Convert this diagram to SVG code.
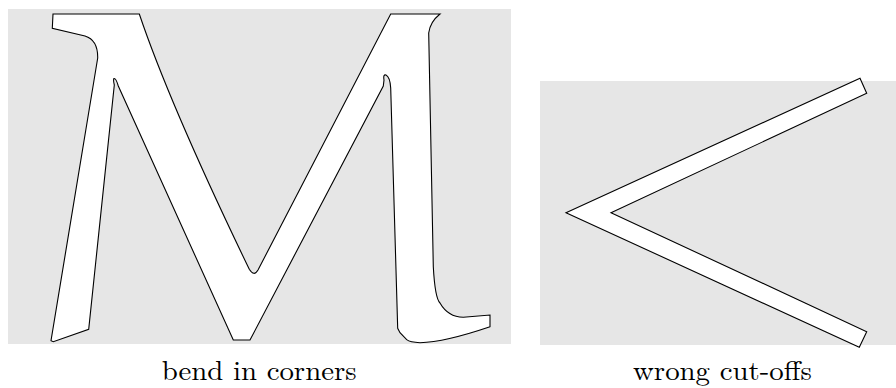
<svg xmlns="http://www.w3.org/2000/svg" width="896" height="388" viewBox="0 0 896 388">
<style>
.bg{fill:#e6e6e6}
.shape{fill:#ffffff;stroke:#000000;stroke-width:1.1;stroke-linejoin:miter}
.cap{font-family:"Latin Modern Roman","Liberation Serif","DejaVu Serif",serif;font-size:28px;fill:#000000;text-anchor:middle}
</style>
<rect width="896" height="388" fill="#ffffff"/>
<g id="panel-m">
<rect class="bg" x="8" y="9" width="503" height="335"/>
<path class="shape" d="M53,14 L139.3,14 Q170,105 249.3,269.3 Q254,277 258,270 L390.7,14 L440,14 Q430,22 428.7,33 L433.3,266.7 Q435,298 440,303 Q448,317 463.3,317.3 L490,315 L490,326.7 Q445,342 420,342.7 Q410,342.5 406.7,339.7 L400,332.7 L397.7,328.3 L390.7,88 Q390,77 386,75 Q383,74 384,80 L383.3,86 L250,340 L233.3,340 L118.3,86 Q116,78 114,78.5 Q113,79.5 114.3,85 L88.7,329.3 L53.3,341.7 L51,340.7 L97.7,58 Q98,40 85,36 L52.3,28.3 Z"/>
</g>
<g id="panel-lt">
<rect class="bg" x="540" y="81" width="356" height="264"/>
<path class="shape" d="M860,78.3 L866.7,93.3 L611,212.7 L866.7,331.7 L859.3,347.3 L566,212.7 Z"/>
</g>
<g id="labels">
<text class="cap" x="259.2" y="380" textLength="195" lengthAdjust="spacingAndGlyphs">bend in corners</text>
<text class="cap" x="722.5" y="380" textLength="179" lengthAdjust="spacingAndGlyphs">wrong cut-offs</text>
</g>
</svg>
